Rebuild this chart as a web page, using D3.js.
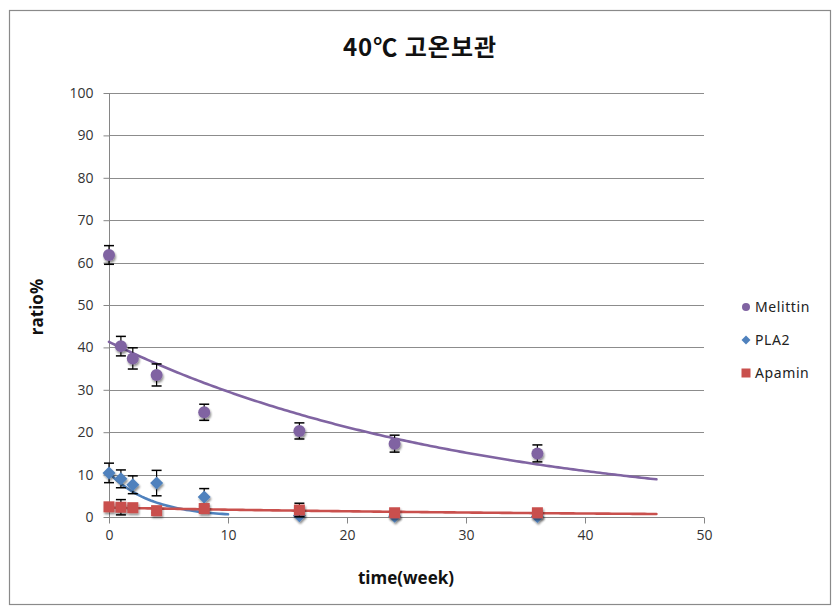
<!DOCTYPE html>
<html>
<head>
<meta charset="utf-8">
<script src="https://cdn.jsdelivr.net/npm/d3@7"></script>
<style>
  html, body { margin: 0; padding: 0; background: #fff; }
  svg { display: block; }
</style>
</head>
<body>
<svg id="chart" width="832" height="607"></svg>
<script>
// Sampling times (weeks)
const weeks = [0, 1, 2, 4, 8, 16, 24, 36];

// Mean ratio (%) per component, with the error bar half-widths
const melittin    = [61.8, 40.3, 37.4, 33.5, 24.7, 20.3, 17.3, 15.0];
const melittinErr = [2.2, 2.3, 2.5, 2.6, 1.9, 1.9, 2.0, 2.0];
const pla2        = [10.4, 9.0, 7.6, 8.0, 4.7, 0.3, 0.2, 0.1];
const pla2Err     = [2.3, 2.1, 2.1, 3.0, 2.0, 0.2, 0.2, 0.2];
const apamin      = [2.4, 2.3, 2.2, 1.5, 2.0, 1.65, 1.0, 1.0];
const apaminErr   = [0.4, 1.8, 0.5, 0.5, 0.5, 1.6, 0.4, 0.4];

// PLA2 decay curve (amplitude, rate per week, last week drawn)
const pla2Curve = { amplitude: 10.4, rate: 0.28, end: 10 };

// Axis ticks
const xTicks = [0, 10, 20, 30, 40, 50];
const yTicks = [0, 10, 20, 30, 40, 50, 60, 70, 80, 90, 100];

const titleText = "40℃ 고온보관";
const xTitle = "time(week)";
const yTitle = "ratio%";

const colors = { Melittin: "#8064A2", PLA2: "#4F81BD", Apamin: "#C9504D" };

const svg = d3.select("#chart");
const x = d3.scaleLinear().domain([0, 50]).range([109, 704]);
const y = d3.scaleLinear().domain([0, 100]).range([517, 93]);

// drop shadow used by the markers
const defs = svg.append("defs");
const f = defs.append("filter").attr("id", "shadow")
  .attr("x", "-50%").attr("y", "-50%").attr("width", "200%").attr("height", "200%");
f.append("feGaussianBlur").attr("in", "SourceAlpha").attr("stdDeviation", 1.2).attr("result", "b");
f.append("feOffset").attr("in", "b").attr("dx", 0.5).attr("dy", 1.5).attr("result", "o");
f.append("feComponentTransfer").attr("in", "o").attr("result", "o2")
  .append("feFuncA").attr("type", "linear").attr("slope", 0.45);
const m = f.append("feMerge");
m.append("feMergeNode").attr("in", "o2");
m.append("feMergeNode").attr("in", "SourceGraphic");

// chart frame
svg.append("rect").attr("x", 9.5).attr("y", 10.5).attr("width", 821).attr("height", 594)
  .attr("fill", "#fff").attr("stroke", "#8a8a8a").attr("stroke-width", 1.2);

// horizontal gridlines
svg.append("g").selectAll("line").data(yTicks.filter(d => d > 0)).join("line")
  .attr("x1", x(0)).attr("x2", x(50))
  .attr("y1", d => Math.round(y(d)) + 0.5).attr("y2", d => Math.round(y(d)) + 0.5)
  .attr("stroke", "#8c8c8c").attr("stroke-width", 1);

const tickFont = "'Open Sans', 'Noto Sans', sans-serif";

// y axis
const yAxis = svg.append("g").attr("transform", `translate(${x(0) + 0.5},0)`)
  .call(d3.axisLeft(y).tickValues(yTicks).tickSize(6).tickPadding(10).tickFormat(d3.format("d")));
yAxis.select(".domain").attr("stroke", "#868686").attr("d", `M0,${y(100)}V${y(0)}`);
yAxis.selectAll(".tick line").attr("stroke", "#868686");
yAxis.selectAll(".tick text").attr("font-family", tickFont).attr("font-size", 14).attr("fill", "#333");

// x axis
const xAxis = svg.append("g").attr("transform", `translate(0,${Math.round(y(0)) + 0.5})`)
  .call(d3.axisBottom(x).tickValues(xTicks).tickSize(6).tickPadding(7).tickFormat(d3.format("d")));
xAxis.select(".domain").attr("stroke", "#868686").attr("d", `M${x(0)},0H${x(50)}`);
xAxis.selectAll(".tick line").attr("stroke", "#868686");
xAxis.selectAll(".tick text").attr("font-family", tickFont).attr("font-size", 14).attr("fill", "#333");

// titles
svg.append("text").attr("x", 420).attr("y", 56).attr("text-anchor", "middle")
  .attr("font-family", "'Noto Sans CJK KR', sans-serif").attr("font-weight", "bold")
  .attr("font-size", 24).attr("letter-spacing", 1).attr("fill", "#111").text(titleText);
svg.append("text").attr("x", 406).attr("y", 584).attr("text-anchor", "middle")
  .attr("font-family", "'Open Sans', sans-serif").attr("font-weight", "bold")
  .attr("font-size", 17).attr("fill", "#111").text(xTitle);
svg.append("text").attr("transform", "translate(43,307) rotate(-90)").attr("text-anchor", "middle")
  .attr("font-family", "'Open Sans', sans-serif").attr("font-weight", "bold")
  .attr("font-size", 17).attr("fill", "#111").text(yTitle);

// exponential least-squares fit on ln(y)
function expFit(xs, ys) {
  const ly = ys.map(Math.log);
  const mx = d3.mean(xs), my = d3.mean(ly);
  let sxy = 0, sxx = 0;
  xs.forEach((v, i) => { sxy += (v - mx) * (ly[i] - my); sxx += (v - mx) ** 2; });
  const b = sxy / sxx;
  return { a: Math.exp(my - b * mx), b };
}

const line = d3.line().x(d => x(d[0])).y(d => y(d[1]));
function trend(a, b, x0, x1, color) {
  const pts = d3.range(x0, x1 + 0.001, 0.25).map(t => [t, a * Math.exp(b * t)]);
  svg.append("path").attr("d", line(pts)).attr("fill", "none")
    .attr("stroke", color).attr("stroke-width", 2.6).attr("stroke-linecap", "round");
}

const forecast = 10;
const lastWeek = d3.max(weeks);
const fm = expFit(weeks, melittin);
const fa = expFit(weeks, apamin);
trend(fm.a, fm.b, 0, lastWeek + forecast, colors.Melittin);
trend(pla2Curve.amplitude, -pla2Curve.rate, 0, pla2Curve.end, colors.PLA2);
trend(fa.a, fa.b, 0, lastWeek + forecast, colors.Apamin);

// error bars and markers
const series = [
  { name: "Melittin", values: melittin, err: melittinErr, shape: "circle" },
  { name: "PLA2", values: pla2, err: pla2Err, shape: "diamond" },
  { name: "Apamin", values: apamin, err: apaminErr, shape: "square" }
];

function drawMarker(g, shape, cx, cy, color) {
  if (shape === "circle") {
    g.append("circle").attr("cx", cx).attr("cy", cy).attr("r", 6).attr("fill", color)
      .attr("filter", "url(#shadow)");
  } else if (shape === "diamond") {
    const s = 6.5;
    g.append("path").attr("d", `M${cx},${cy - s}L${cx + s},${cy}L${cx},${cy + s}L${cx - s},${cy}Z`)
      .attr("fill", color).attr("filter", "url(#shadow)");
  } else {
    const s = 5.5;
    g.append("rect").attr("x", cx - s).attr("y", cy - s).attr("width", 2 * s).attr("height", 2 * s)
      .attr("fill", color).attr("filter", "url(#shadow)");
  }
}

series.forEach(s => {
  const g = svg.append("g");
  weeks.forEach((w, i) => {
    const cx = x(w), v = s.values[i], e = s.err[i];
    const top = y(v + e), bot = y(Math.max(0, v - e));
    g.append("line").attr("x1", cx).attr("x2", cx).attr("y1", top).attr("y2", bot)
      .attr("stroke", "#000").attr("stroke-width", 1.2);
    [top, bot].forEach(yy => g.append("line").attr("x1", cx - 5).attr("x2", cx + 5)
      .attr("y1", yy).attr("y2", yy).attr("stroke", "#000").attr("stroke-width", 1.5));
  });
  weeks.forEach((w, i) => drawMarker(g, s.shape, x(w), y(s.values[i]), colors[s.name]));
});

// legend
const legend = svg.append("g");
series.forEach((s, i) => {
  const ly = 307 + i * 33;
  const lg = legend.append("g");
  if (s.shape === "circle") lg.append("circle").attr("cx", 746).attr("cy", ly).attr("r", 4).attr("fill", colors[s.name]);
  else if (s.shape === "diamond") lg.append("path").attr("d", `M746,${ly - 4.5}L750.5,${ly}L746,${ly + 4.5}L741.5,${ly}Z`).attr("fill", colors[s.name]);
  else lg.append("rect").attr("x", 741.5).attr("y", ly - 4.5).attr("width", 9).attr("height", 9).attr("fill", colors[s.name]);
  lg.append("text").attr("x", 755).attr("y", ly + 5)
    .attr("font-family", "'Noto Sans', sans-serif").attr("font-size", 14).attr("letter-spacing", 0.6).attr("fill", "#222")
    .text(s.name);
});
</script>
</body>
</html>
